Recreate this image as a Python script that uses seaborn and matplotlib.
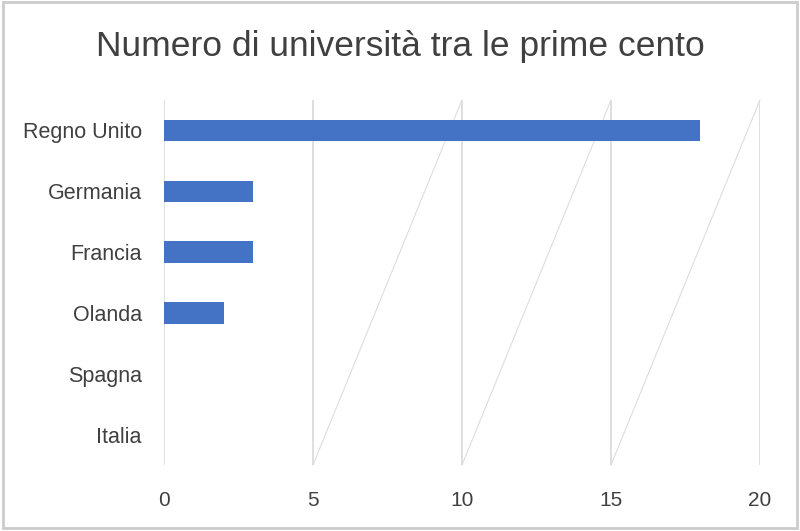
import matplotlib
matplotlib.use("Agg")
import matplotlib.pyplot as plt
import seaborn as sns
import pandas as pd
from matplotlib.patches import Rectangle

countries = ["Regno Unito", "Germania", "Francia", "Olanda", "Spagna", "Italia"]
values = [18, 3, 3, 2, 0, 0]
xticks = [0, 5, 10, 15, 20]
title = "Numero di università tra le prime cento"

sns.set_theme(style="white")
plt.rcParams['font.family'] = ['Liberation Sans', 'DejaVu Sans']

df = pd.DataFrame({"country": countries, "value": values})

fig = plt.figure(figsize=(8, 5.31), dpi=100)
ax = fig.add_axes([0.205, 0.1243, 0.745, 0.6874])

sns.barplot(data=df, x="value", y="country", color="#4472C4", saturation=1,
            width=0.35, ax=ax, order=countries, linewidth=0)

ax.set_xlim(xticks[0], xticks[-1])
ax.set_xticks(xticks)
ax.set_ylim(len(countries) - 0.5, -0.5)
ax.set_xlabel("")
ax.set_ylabel("")
for s in ax.spines.values():
    s.set_visible(False)
ax.grid(axis="x", color="#D9D9D9", linewidth=1.2)
ax.set_axisbelow(True)
ax.tick_params(axis="both", length=0, colors="#404040")
ax.tick_params(axis="x", labelsize=15, pad=19)
ax.tick_params(axis="y", labelsize=15.5, pad=16)

# faint diagonal artifacts between gridlines
y0, y1 = ax.get_ylim()
for a, b in zip(xticks[1:-1], xticks[2:]):
    ax.plot([a, b], [y0, y1], color="#DDDDDD", linewidth=0.8, zorder=0.5, clip_on=False)

fig.text(0.5, 0.912, title, ha="center", va="center", fontsize=25.5, color="#404040")

fig.patches.append(Rectangle((0.004, 0.006), 0.992, 0.99, transform=fig.transFigure,
                             fill=False, edgecolor="#CCCCCC", linewidth=2))

fig.savefig("out.png", dpi=100)
